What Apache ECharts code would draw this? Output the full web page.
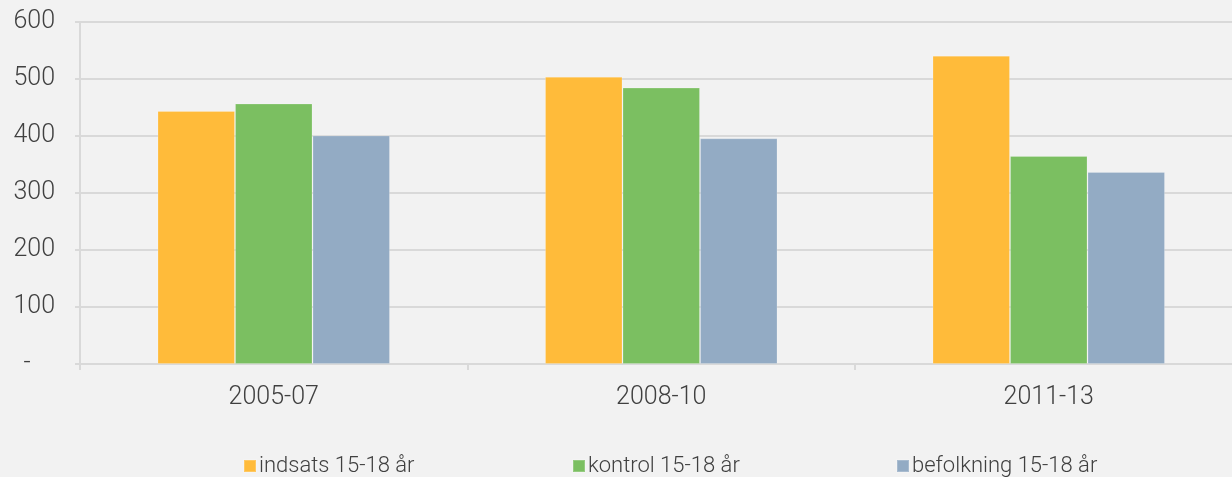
<!DOCTYPE html>
<html><head><meta charset="utf-8">
<script src="https://cdn.jsdelivr.net/npm/echarts@6/dist/echarts.min.js"></script>
<style>html,body{margin:0;padding:0;background:#f2f2f2;}#c{width:1232px;height:477px;}</style>
</head><body><div id="c"></div>
<script>
const categories = ['2005-07', '2008-10', '2011-13'];
const seriesNames = ['indsats 15-18 år', 'kontrol 15-18 år', 'befolkning 15-18 år'];
const indsats = [444, 504, 541];
const kontrol = [457, 485, 365];
const befolkning = [401, 396, 337];
const yTicks = [0, 100, 200, 300, 400, 500, 600];

const colors = ['#ffbb3a', '#7bbf61', '#93abc4'];
const dataSets = [indsats, kontrol, befolkning];
const legendLeft = [243, 572, 896];
const chart = echarts.init(document.getElementById('c'));
const labelFont = 'Roboto, "Liberation Sans", sans-serif';
chart.setOption({
  backgroundColor: '#f2f2f2',
  animation: false,
  grid: {left: 80, top: 22, width: 1162.5, height: 342, outerBoundsMode: 'none', containLabel: false},
  legend: seriesNames.map((n, i) => ({
    left: legendLeft[i], top: 455, padding: 0,
    itemWidth: 12, itemHeight: 12, icon: 'rect',
    textStyle: {fontFamily: labelFont, fontWeight: 300, fontSize: 22, color: '#404040', padding: [13, 0, 0, -2]},
    data: [n]
  })),
  xAxis: {
    type: 'category', data: categories,
    axisLine: {lineStyle: {color: '#d9d9d9', width: 2}},
    axisTick: {show: true, length: 6, lineStyle: {color: '#d9d9d9', width: 2}},
    axisLabel: {fontFamily: labelFont, fontWeight: 300, fontSize: 25, color: '#404040', margin: 21}
  },
  yAxis: {
    type: 'value', min: yTicks[0], max: yTicks[yTicks.length - 1], interval: 100,
    axisLine: {show: true, lineStyle: {color: '#d9d9d9', width: 2}},
    axisTick: {show: true, length: 5, lineStyle: {color: '#d9d9d9', width: 2}},
    splitLine: {lineStyle: {color: '#d9d9d9', width: 2}},
    axisLabel: {fontFamily: labelFont, fontWeight: 300, fontSize: 25, color: '#404040', margin: 25,
      formatter: v => v === 0 ? '-    ' : String(v)}
  },
  series: seriesNames.map((n, i) => ({
    name: n, type: 'bar', data: dataSets[i],
    barWidth: '20%', barGap: '0%',
    itemStyle: {color: colors[i], borderColor: 'rgba(255,255,255,0.2)', borderWidth: 1}
  }))
});
</script></body></html>
